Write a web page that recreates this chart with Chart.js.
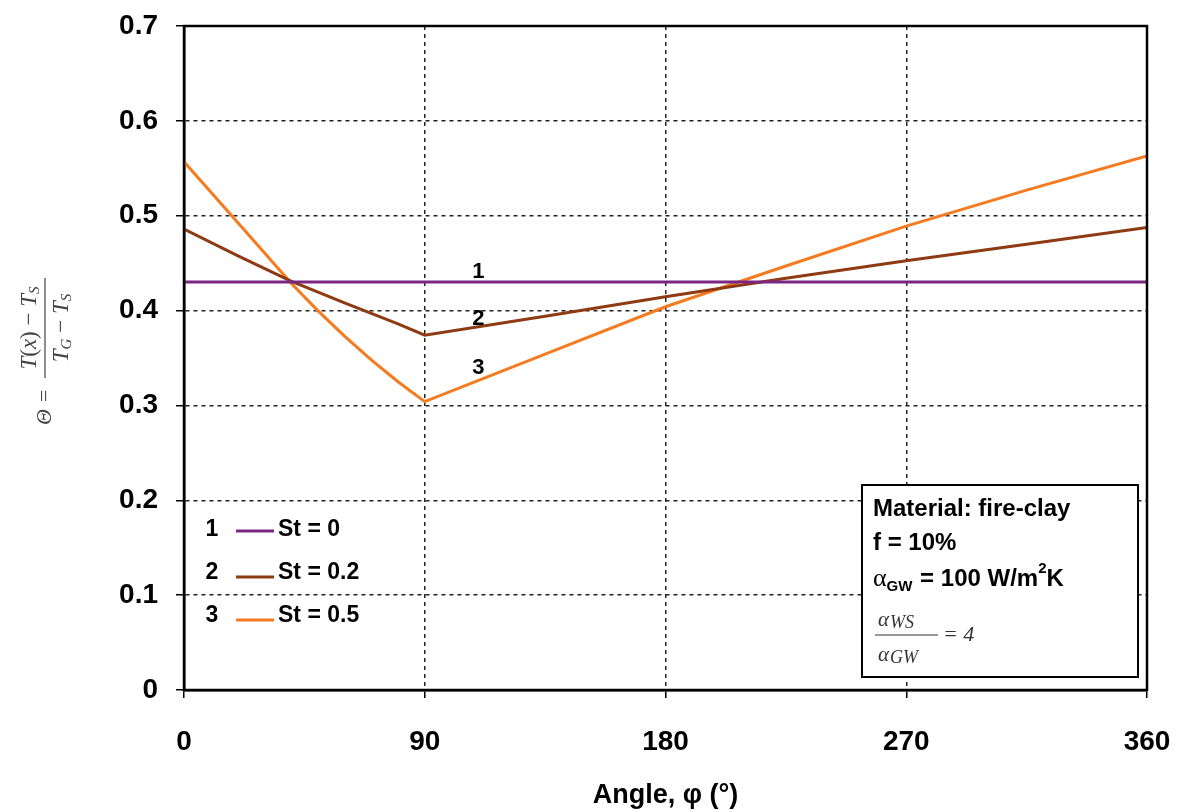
<!DOCTYPE html>
<html>
<head>
<meta charset="utf-8">
<script src="https://cdn.jsdelivr.net/npm/chart.js@4.4.1/dist/chart.umd.min.js"></script>
<style>
html,body{margin:0;padding:0;background:#fff;}
#wrap{width:1182px;height:812px;}
</style>
</head>
<body>
<div id="wrap"><canvas id="c" width="1182" height="812"></canvas></div>
<script>
// ---- data ----
const xTicks = [0, 90, 180, 270, 360];
const yTicks = [0, 0.1, 0.2, 0.3, 0.4, 0.5, 0.6, 0.7];
const seriesNames = ['St = 0', 'St = 0.2', 'St = 0.5'];
const seriesIds = ['1', '2', '3'];
const angles1 = [0, 360];
const theta1  = [0.430, 0.430];
const angles2 = [0, 20, 40, 60, 80, 90, 135, 180, 225, 270, 315, 360];
const theta2  = [0.486, 0.458, 0.431, 0.408, 0.386, 0.374, 0.394, 0.4145, 0.434, 0.4525, 0.470, 0.4875];
const angles3 = [0, 20, 40, 50, 60, 70, 80, 90, 135, 180, 225, 270, 315, 360];
const theta3  = [0.557, 0.493, 0.429, 0.400, 0.373, 0.348, 0.325, 0.304, 0.354, 0.404, 0.447, 0.489, 0.527, 0.563];

const colors = ['#7b2682', '#8e3a12', '#f47b20'];
const toPts = (xs, ys) => xs.map((x, i) => ({x: x, y: ys[i]}));

const FONT = '"Liberation Sans", Arial, sans-serif';
const SERIF = '"Liberation Serif", "Times New Roman", serif';

// ---- decorations plugin ----
const deco = {
  id: 'deco',
  afterDraw(chart) {
    const ctx = chart.ctx;
    const a = chart.chartArea;
    const xs = chart.scales.x, ys = chart.scales.y;
    ctx.save();
    // frame
    ctx.strokeStyle = '#000';
    ctx.lineWidth = 2.5;
    ctx.setLineDash([]);
    ctx.strokeRect(a.left, a.top, a.right - a.left, a.bottom - a.top);

    // inline curve labels
    ctx.fillStyle = '#000';
    ctx.font = 'bold 22px ' + FONT;
    ctx.textAlign = 'center';
    ctx.textBaseline = 'middle';
    const lblPos = [[110, 0.441], [110, 0.391], [110, 0.340]];
    lblPos.forEach((p, i) => ctx.fillText(seriesIds[i], xs.getPixelForValue(p[0]), ys.getPixelForValue(p[1])));

    // legend (inside plot, lower left)
    const rows = [530, 573, 616];
    const lineY = [531, 577, 620];
    rows.forEach((ry, i) => {
      ctx.font = 'bold 23px ' + FONT;
      ctx.textAlign = 'center';
      ctx.textBaseline = 'middle';
      ctx.fillStyle = '#000';
      ctx.fillText(seriesIds[i], 212, ry);
      ctx.strokeStyle = colors[i];
      ctx.lineWidth = 3;
      ctx.beginPath(); ctx.moveTo(236, lineY[i]); ctx.lineTo(274, lineY[i]); ctx.stroke();
      ctx.textAlign = 'left';
      ctx.fillText(seriesNames[i], 278, ry);
    });

    // annotation box
    ctx.fillStyle = '#fff';
    ctx.fillRect(862, 485, 276, 192);
    ctx.strokeStyle = '#000';
    ctx.lineWidth = 2;
    ctx.strokeRect(862, 485, 276, 192);
    ctx.fillStyle = '#000';
    ctx.textAlign = 'left';
    ctx.textBaseline = 'middle';
    ctx.font = 'bold 24px ' + FONT;
    ctx.fillText('Material: fire-clay', 873, 509);
    ctx.fillText('f = 10%', 873, 543);
    // alpha_GW = 100 W/m2K
    let x = 873;
    ctx.font = '26px ' + SERIF;
    ctx.fillText('α', x, 579); x += ctx.measureText('α').width;
    ctx.font = 'bold 15px ' + FONT;
    ctx.fillText('GW', x, 587); x += ctx.measureText('GW').width + 1;
    ctx.font = 'bold 24px ' + FONT;
    ctx.fillText(' = 100 W/m', x, 579); x += ctx.measureText(' = 100 W/m').width;
    ctx.font = 'bold 15px ' + FONT;
    ctx.fillText('2', x, 569); x += ctx.measureText('2').width;
    ctx.font = 'bold 24px ' + FONT;
    ctx.fillText('K', x, 579);
    // fraction alpha_WS / alpha_GW = 4
    ctx.fillStyle = '#333';
    ctx.textAlign = 'left';
    ctx.font = 'italic 21px ' + SERIF;
    ctx.fillText('α', 878, 620);
    ctx.font = 'italic 18px ' + SERIF;
    ctx.fillText('WS', 890, 623);
    ctx.font = 'italic 21px ' + SERIF;
    ctx.fillText('α', 878, 655);
    ctx.font = 'italic 18px ' + SERIF;
    ctx.fillText('GW', 890, 658);
    ctx.strokeStyle = '#333';
    ctx.lineWidth = 1.2;
    ctx.beginPath(); ctx.moveTo(875, 635); ctx.lineTo(938, 635); ctx.stroke();
    ctx.font = 'italic 22px ' + SERIF;
    ctx.fillText('= 4', 943, 635);

    // y-axis title (rotated formula)
    ctx.translate(45, 330);
    ctx.rotate(-Math.PI / 2);
    ctx.fillStyle = '#444';
    ctx.strokeStyle = '#444';
    ctx.textBaseline = 'middle';
    ctx.textAlign = 'left';
    ctx.font = 'italic 22px ' + SERIF;
    ctx.fillText('Θ =', -95, 0);
    ctx.lineWidth = 1.2;
    ctx.beginPath(); ctx.moveTo(-48, 0); ctx.lineTo(52, 0); ctx.stroke();
    const drawTerm = (parts, cx, v) => {
      let w = 0;
      parts.forEach(p => { ctx.font = p[1]; w += ctx.measureText(p[0]).width; });
      let u = cx - w / 2;
      parts.forEach(p => {
        ctx.font = p[1];
        ctx.fillText(p[0], u, v + (p[2] || 0));
        u += ctx.measureText(p[0]).width;
      });
    };
    const big = 'italic 23px ' + SERIF, sml = 'italic 15px ' + SERIF, up = '23px ' + SERIF;
    drawTerm([['T', big], ['(', up], ['x', big], [')', up], [' − ', up], ['T', big], ['S', sml, 5]], 2, -15);
    drawTerm([['T', big], ['G', sml, 5], [' − ', up], ['T', big], ['S', sml, 5]], 2, 17);
    ctx.restore();
  }
};

new Chart(document.getElementById('c'), {
  type: 'line',
  data: {
    datasets: [
      {label: seriesNames[0], data: toPts(angles1, theta1), borderColor: colors[0]},
      {label: seriesNames[1], data: toPts(angles2, theta2), borderColor: colors[1]},
      {label: seriesNames[2], data: toPts(angles3, theta3), borderColor: colors[2]}
    ].map(d => Object.assign(d, {borderWidth: 3, pointRadius: 0, tension: 0, fill: false}))
  },
  options: {
    responsive: false,
    animation: false,
    layout: {padding: {left: 0, right: 35, top: 26, bottom: 0}},
    plugins: {legend: {display: false}, tooltip: {enabled: false}},
    scales: {
      x: {
        type: 'linear', min: 0, max: 360,
        afterBuildTicks: s => { s.ticks = xTicks.map(v => ({value: v})); },
        afterFit: s => { s.height = 122; s.paddingLeft = 0; s.paddingRight = 0; },
        ticks: {color: '#000', font: {family: FONT, size: 28, weight: 'bold'}, padding: 27, maxRotation: 0},
        grid: {
          color: c => (c.tick && (c.tick.value === 0 || c.tick.value === 360)) ? 'rgba(0,0,0,0)' : '#222',
          lineWidth: 1.5, tickColor: '#000', tickLength: 8, tickWidth: 1.5
        },
        border: {display: true, color: '#000', width: 2.5, dash: [4, 4]},
        title: {display: true, text: 'Angle, φ (°)', color: '#000', font: {family: FONT, size: 27, weight: 'bold'}, padding: {top: 0, bottom: 0}}
      },
      y: {
        min: 0, max: 0.7,
        afterBuildTicks: s => { s.ticks = yTicks.map(v => ({value: v})); },
        afterFit: s => { s.width = 184; s.paddingTop = 0; s.paddingBottom = 0; },
        ticks: {color: '#000', font: {family: FONT, size: 28, weight: 'bold'}, padding: 18,
          callback: v => v === 0 ? '0' : v.toFixed(1)},
        grid: {
          color: c => (c.tick && (c.tick.value === 0 || Math.abs(c.tick.value - 0.7) < 1e-9)) ? 'rgba(0,0,0,0)' : '#222',
          lineWidth: 1.5, tickColor: '#000', tickLength: 8, tickWidth: 1.5
        },
        border: {display: true, color: '#000', width: 2.5, dash: [4, 4]}
      }
    }
  },
  plugins: [deco]
});
</script>
</body>
</html>
